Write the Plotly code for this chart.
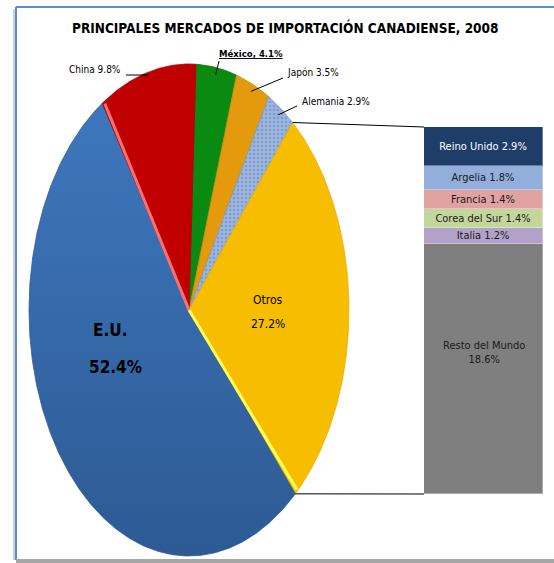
import numpy as np
import plotly.graph_objects as go

# ---------------- data ----------------
title_text = "PRINCIPALES MERCADOS DE IMPORTACIÓN CANADIENSE, 2008"
pie_labels = ["México", "Japón", "Alemania", "Otros", "E.U.", "China"]
pie_values = [4.1, 3.5, 2.9, 27.2, 52.4, 9.8]
bar_labels = ["Resto del Mundo", "Italia", "Corea del Sur", "Francia", "Argelia", "Reino Unido"]
bar_values = [18.6, 1.2, 1.4, 1.4, 1.8, 2.9]

# ---------------- styles ----------------
pie_colors = ["#0B8A12", "#E39A0C", "#93AEDA", "#F7BD00", "#3568A8", "#C00000"]
pie_edge = ["#0A7A10", "#C8860A", "#7E9CCB", "#E8AE00", "#2E5E98", "#A80000"]
bar_colors = ["#7F7F7F", "#B3A2C7", "#C3D69B", "#E0A3A1", "#93AEDA", "#1F3D69"]
bar_text_colors = ["#1A1A1A", "#1A1A1A", "#1A1A1A", "#1A1A1A", "#1A1A1A", "#FFFFFF"]
FONT = "Liberation Sans Narrow, DejaVu Sans Condensed, Arial Narrow, sans-serif"

W, H = 554, 563
CX, CY, RX, RY = 189, 310, 160, 246     # pie centre / radii in pixels
ROT = 2.5                                # pie rotation, degrees
BAR_X0, BAR_X1, BAR_Y0, BAR_Y1 = 424, 543, 127, 494


def u_of(x):
    return (x - CX) / RX


def v_of(y):
    return (CY - y) / RY


def pap(x, y):
    return x / W, 1 - y / H


total = sum(pie_values)
cum = np.concatenate([[0.0], np.cumsum(pie_values)]) / total


def ang(f):
    return np.deg2rad(f * 360.0 + ROT)


def edge(f, r=1.0):
    a = ang(f)
    return r * np.sin(a), r * np.cos(a)


fig = go.Figure()

# ---------------- pie wedges ----------------
for i, lab in enumerate(pie_labels):
    n = max(4, int(pie_values[i] * 6))
    t = np.linspace(ang(cum[i]), ang(cum[i + 1]), n)
    xs = np.concatenate([[0], np.sin(t), [0]])
    ys = np.concatenate([[0], np.cos(t), [0]])
    kw = {}
    if lab == "Alemania":
        kw["fillpattern"] = dict(shape=".", bgcolor="#9DB6DE", fgcolor="#5F7FB5",
                                 size=4, solidity=0.35)
    if lab == "E.U.":
        kw["fillgradient"] = dict(type="vertical",
                                  colorscale=[[0, "#2D5A93"], [1, "#3E77BE"]])
    fig.add_trace(go.Scatter(
        x=xs, y=ys, mode="lines", fill="toself", fillcolor=pie_colors[i],
        line=dict(color=pie_edge[i], width=0.8), hoverinfo="skip",
        showlegend=False, xaxis="x", yaxis="y", **kw))

# bevel highlights
i_china = pie_labels.index("China")
hx, hy = edge(cum[i_china] + 0.002, 0.99)
fig.add_trace(go.Scatter(x=[0, hx], y=[0, hy], mode="lines",
                         line=dict(color="#FF6F6F", width=3), hoverinfo="skip",
                         showlegend=False))
i_otros = pie_labels.index("Otros")
hx, hy = edge(cum[i_otros + 1] - 0.003, 0.995)
fig.add_trace(go.Scatter(x=[0, hx], y=[0, hy], mode="lines",
                         line=dict(color="#FFFF55", width=3), hoverinfo="skip",
                         showlegend=False))

# ---------------- connectors (pie -> bar) ----------------
tx, ty = edge(cum[i_otros])
bx, by = edge(cum[i_otros + 1])
fig.add_trace(go.Scatter(x=[tx, u_of(BAR_X0)], y=[ty, v_of(BAR_Y0)], mode="lines",
                         line=dict(color="black", width=1), hoverinfo="skip",
                         showlegend=False))
fig.add_trace(go.Scatter(x=[bx, u_of(BAR_X0)], y=[by, v_of(BAR_Y1)], mode="lines",
                         line=dict(color="black", width=1), hoverinfo="skip",
                         showlegend=False))

# ---------------- bar of pie ----------------
ann = []
for j, lab in enumerate(bar_labels):
    txt = f"{lab} {bar_values[j]}%"
    is_rest = lab == "Resto del Mundo"
    fig.add_trace(go.Bar(
        x=[0], y=[bar_values[j]], width=1, xaxis="x2", yaxis="y2",
        marker=dict(color=bar_colors[j], line=dict(color="rgba(255,255,255,0.35)", width=1)),
        text=[None if is_rest else txt], textposition="inside",
        insidetextanchor="middle", textangle=0, constraintext="none",
        textfont=dict(family=FONT, size=11, color=bar_text_colors[j]),
        hoverinfo="skip", showlegend=False))
    if is_rest:
        base = sum(bar_values[:j])
        ann.append(dict(x=0, y=base + bar_values[j] * 0.565, xref="x2", yref="y2",
                        text=f"{lab}<br>{bar_values[j]}%", showarrow=False,
                        font=dict(family=FONT, size=11, color=bar_text_colors[j])))

# ---------------- labels ----------------


def add_text(px, py, text, size, xanchor="center", yanchor="middle"):
    x, y = pap(px, py)
    ann.append(dict(x=x, y=y, xref="paper", yref="paper", text=text,
                    showarrow=False, xanchor=xanchor, yanchor=yanchor,
                    font=dict(family=FONT, size=size, color="black")))


add_text(285, 27, f"<b>{title_text}</b>", 13.5)

# outer labels: text pixel anchor, xanchor, leader start pixel
outer = {
    "China": dict(pos=(123, 70), xanchor="right", start=(126, 75), bold=False),
    "México": dict(pos=(251, 53), xanchor="center", start=(219, 61), bold=True),
    "Japón": dict(pos=(285, 73), xanchor="left", start=(283, 78), bold=False),
    "Alemania": dict(pos=(300, 102), xanchor="left", start=(297, 106), bold=False),
}
for lab, o in outer.items():
    i = pie_labels.index(lab)
    if o["bold"]:
        t = f"<b><u>{lab}, {pie_values[i]}%</u></b>"
        size = 9.5
    else:
        t = f"{lab} {pie_values[i]}%"
        size = 10
    add_text(o["pos"][0], o["pos"][1], t, size, xanchor=o["xanchor"])
    ex, ey = edge((cum[i] + cum[i + 1]) / 2, 0.97)
    sx, sy = u_of(o["start"][0]), v_of(o["start"][1])
    if lab == "China":
        pts_x, pts_y = [sx, ex], [sy, sy]
    else:
        pts_x, pts_y = [sx, ex], [sy, ey]
    fig.add_trace(go.Scatter(x=pts_x, y=pts_y, mode="lines",
                             line=dict(color="black", width=1), hoverinfo="skip",
                             showlegend=False))

i_eu = pie_labels.index("E.U.")
add_text(110, 330, f"<b>{pie_labels[i_eu]}</b>", 17)
add_text(115, 367, f"<b>{pie_values[i_eu]}%</b>", 17)
add_text(268, 300, pie_labels[i_otros], 12)
add_text(268, 324, f"{pie_values[i_otros]}%", 12)

# ---------------- frame ----------------
shapes = [
    dict(type="line", xref="paper", yref="paper", x0=14 / W, x1=14 / W,
         y0=1 - 9 / H, y1=1 - 560 / H, line=dict(color="#D0D0D0", width=2)),
    dict(type="line", xref="paper", yref="paper", x0=16 / W, x1=16 / W,
         y0=1 - 7 / H, y1=1 - 560 / H, line=dict(color="#5B8BD0", width=2)),
    dict(type="line", xref="paper", yref="paper", x0=16 / W, x1=1,
         y0=1 - 7 / H, y1=1 - 7 / H, line=dict(color="#5B8BD0", width=2)),
    dict(type="rect", xref="paper", yref="paper", x0=16 / W, x1=1,
         y0=0, y1=1 - 559 / H, line=dict(width=0), fillcolor="#A6A6A6"),
]

fig.update_layout(
    width=W, height=H, margin=dict(l=0, r=0, t=0, b=0),
    paper_bgcolor="white", plot_bgcolor="rgba(0,0,0,0)",
    showlegend=False, barmode="stack", bargap=0,
    xaxis=dict(domain=[0, 1], range=[u_of(0), u_of(W)], visible=False),
    yaxis=dict(domain=[0, 1], range=[v_of(H), v_of(0)], visible=False),
    xaxis2=dict(domain=[BAR_X0 / W, BAR_X1 / W], range=[-0.5, 0.5], visible=False,
                anchor="y2"),
    yaxis2=dict(domain=[1 - BAR_Y1 / H, 1 - BAR_Y0 / H], range=[0, sum(bar_values)],
                visible=False, anchor="x2"),
    annotations=ann, shapes=shapes,
)

fig.write_html("out.html", config={"displayModeBar": False},
               post_script="document.body.style.margin='0';document.body.style.overflow='hidden';")
